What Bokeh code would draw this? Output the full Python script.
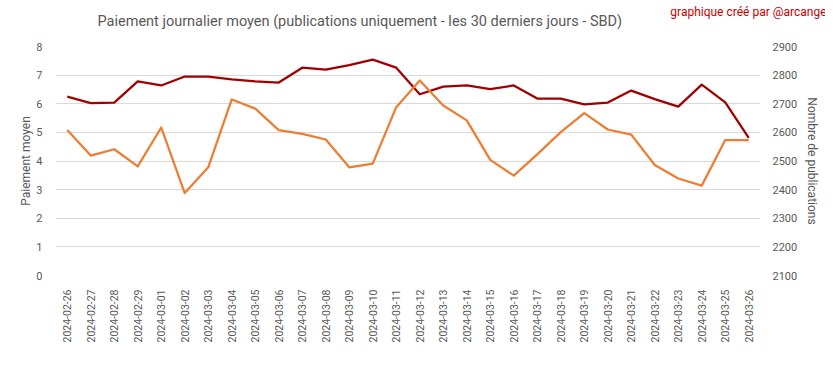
from bokeh.plotting import figure
from bokeh.models import (Range1d, FactorRange, LinearAxis, FixedTicker,
                          Legend, LegendItem, ColumnDataSource, Title)
from bokeh.embed import file_html
from bokeh.resources import INLINE
import math

dates = ["2024-02-26", "2024-02-27", "2024-02-28", "2024-02-29", "2024-03-01",
         "2024-03-02", "2024-03-03", "2024-03-04", "2024-03-05", "2024-03-06",
         "2024-03-07", "2024-03-08", "2024-03-09", "2024-03-10", "2024-03-11",
         "2024-03-12", "2024-03-13", "2024-03-14", "2024-03-15", "2024-03-16",
         "2024-03-17", "2024-03-18", "2024-03-19", "2024-03-20", "2024-03-21",
         "2024-03-22", "2024-03-23", "2024-03-24", "2024-03-25", "2024-03-26"]

paiement_moyen = [6.25, 6.02, 6.04, 6.78, 6.64, 6.95, 6.95, 6.85, 6.78, 6.74,
                  7.26, 7.19, 7.35, 7.54, 7.26, 6.33, 6.60, 6.64, 6.51, 6.64,
                  6.18, 6.18, 5.98, 6.04, 6.46, 6.16, 5.90, 6.67, 6.05, 4.81]

nombre_publications = [2608, 2519, 2541, 2481, 2617, 2388, 2478, 2715, 2683, 2608,
                       2595, 2575, 2478, 2491, 2688, 2781, 2694, 2642, 2504, 2449,
                       2523, 2601, 2667, 2610, 2592, 2486, 2439, 2414, 2573, 2573]

left_ticks = [0, 1, 2, 3, 4, 5, 6, 7, 8]
right_ticks = [2100, 2200, 2300, 2400, 2500, 2600, 2700, 2800, 2900]

title_text = "Paiement journalier moyen (publications uniquement  - les 30 derniers jours - SBD)"
credit_text = "graphique créé par @arcange"
series_names = ["Paiement moyen", "Nombre de publications"]

FONT = "Roboto"
GRAY = "#595959"
RED = "#a00000"
ORANGE = "#ed7d31"

src = ColumnDataSource(dict(d=dates, pm=paiement_moyen, nb=nombre_publications))

p = figure(frame_width=705, frame_height=229, output_backend="svg",
           toolbar_location=None,
           x_range=FactorRange(factors=dates, range_padding=0),
           y_range=Range1d(left_ticks[0], left_ticks[-1]),
           min_border_left=55, min_border_right=65, min_border_top=46,
           min_border_bottom=88)
p.outline_line_color = None
p.background_fill_color = "white"
p.border_fill_color = "white"
p.extra_y_ranges = {"right": Range1d(right_ticks[0], right_ticks[-1])}

ya = p.yaxis[0]
ya.ticker = FixedTicker(ticks=left_ticks)
ya.axis_line_color = None
ya.major_tick_line_color = None
ya.minor_tick_line_color = None
ya.major_label_standoff = 7
ya.major_label_text_font = FONT
ya.major_label_text_font_size = "11px"
ya.major_label_text_color = GRAY
ya.axis_label = series_names[0]
ya.axis_label_text_font = FONT
ya.axis_label_text_font_size = "12px"
ya.axis_label_text_font_style = "normal"
ya.axis_label_text_color = GRAY
ya.axis_label_standoff = 0

ra = LinearAxis(y_range_name="right", ticker=FixedTicker(ticks=right_ticks),
                axis_label=series_names[1])
ra.axis_line_color = None
ra.major_tick_line_color = None
ra.minor_tick_line_color = None
ra.major_label_standoff = 6
ra.major_label_text_font = FONT
ra.major_label_text_font_size = "11px"
ra.major_label_text_color = GRAY
ra.axis_label_text_font = FONT
ra.axis_label_text_font_size = "12px"
ra.axis_label_text_font_style = "normal"
ra.axis_label_text_color = GRAY
ra.axis_label_standoff = 5
p.add_layout(ra, "right")

xa = p.xaxis[0]
xa.axis_line_color = None
xa.major_tick_line_color = None
xa.minor_tick_line_color = None
xa.major_label_orientation = math.pi / 2
xa.major_label_standoff = 8
xa.major_label_text_font = FONT
xa.major_label_text_font_size = "10.5px"
xa.major_label_text_color = GRAY

p.xgrid.grid_line_color = None
p.ygrid.grid_line_color = "#d9d9d9"
p.ygrid.grid_line_width = 1

r1 = p.line("d", "pm", source=src, line_color=RED, line_width=2.25, line_join="round")
r2 = p.line("d", "nb", source=src, y_range_name="right", line_color=ORANGE,
            line_width=2.25, line_join="round")

# titles (above panel: first added is closest to the frame)
spacer_top = Title(text=" ", text_font_size="1px", standoff=14)
main_title = Title(text=title_text, align="left", offset=42, standoff=0,
                   vertical_align="bottom", text_font=FONT,
                   text_font_size="14.5px", text_font_style="normal",
                   text_color=GRAY)
credit = Title(text=credit_text, align="right", offset=-66, standoff=-16,
               vertical_align="bottom", text_font=FONT, text_font_size="12px",
               text_font_style="normal", text_color="#cc0000")
p.add_layout(spacer_top, "above")
p.add_layout(main_title, "above")
p.add_layout(credit, "above")

# legend below the x axis (spacer first, then legend pinned to the panel top)
spacer_bottom = Title(text=" ", text_font_size="1px", standoff=12)
p.add_layout(spacer_bottom, "below")

series_leg = Legend(items=[LegendItem(label=series_names[0], renderers=[r1]),
                           LegendItem(label=series_names[1], renderers=[r2])],
                    orientation="horizontal", location="top_center",
                    padding=0, margin=0, spacing=22, label_standoff=3,
                    glyph_width=25, glyph_height=12, label_height=12,
                    label_text_font=FONT, label_text_font_size="11px",
                    label_text_color=GRAY, border_line_color=None,
                    background_fill_alpha=0)
p.add_layout(series_leg, "below")

open("out.html", "w").write(file_html(p, INLINE))
